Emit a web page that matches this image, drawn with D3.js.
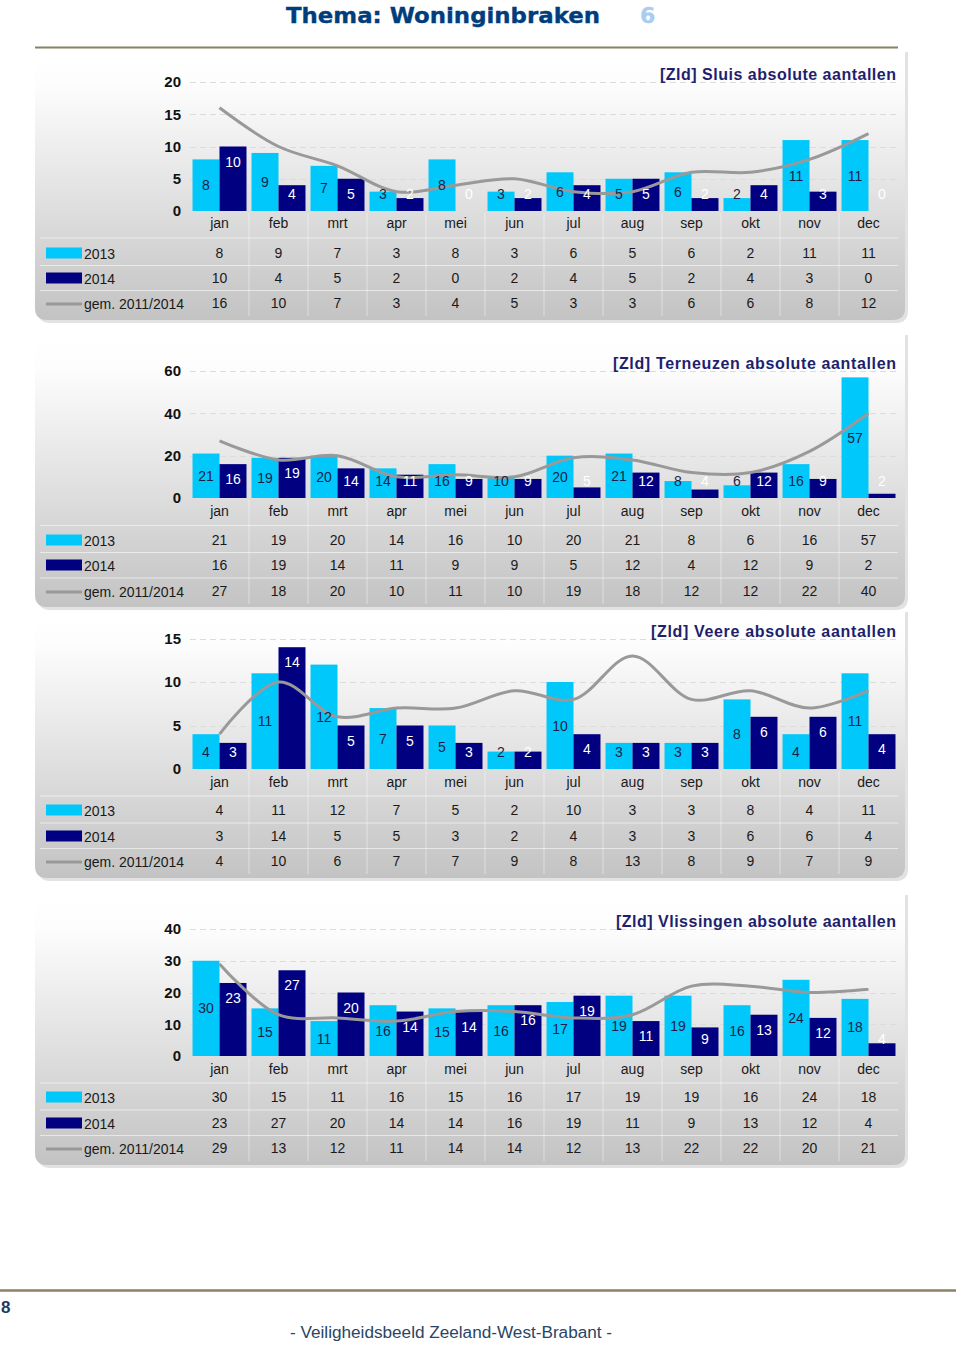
<!DOCTYPE html>
<html><head><meta charset="utf-8">
<script src="https://cdn.jsdelivr.net/npm/d3@7"></script>
<style>body{margin:0;background:#fff;}svg{display:block;font-family:"Liberation Sans",Arial,sans-serif;}</style>
</head><body>
<script>
// ---- data ----
const months = ["jan","feb","mrt","apr","mei","jun","jul","aug","sep","okt","nov","dec"];
const seriesNames = ["2013","2014","gem. 2011/2014"];

const sluis2013 = [8,9,7,3,8,3,6,5,6,2,11,11];
const sluis2014 = [10,4,5,2,0,2,4,5,2,4,3,0];
const sluisAvg  = [16,10,7,3,4,5,3,3,6,6,8,12];
const sluisTicks = [0,5,10,15,20];

const terneuzen2013 = [21,19,20,14,16,10,20,21,8,6,16,57];
const terneuzen2014 = [16,19,14,11,9,9,5,12,4,12,9,2];
const terneuzenAvg  = [27,18,20,10,11,10,19,18,12,12,22,40];
const terneuzenTicks = [0,20,40,60];

const veere2013 = [4,11,12,7,5,2,10,3,3,8,4,11];
const veere2014 = [3,14,5,5,3,2,4,3,3,6,6,4];
const veereAvg  = [4,10,6,7,7,9,8,13,8,9,7,9];
const veereTicks = [0,5,10,15];

const vlis2013 = [30,15,11,16,15,16,17,19,19,16,24,18];
const vlis2014 = [23,27,20,14,14,16,19,11,9,13,12,4];
const vlisAvg  = [29,13,12,11,14,14,12,13,22,22,20,21];
const vlisTicks = [0,10,20,30,40];

const titles = ["[Zld] Sluis absolute aantallen","[Zld] Terneuzen absolute aantallen","[Zld] Veere absolute aantallen","[Zld] Vlissingen absolute aantallen"];

// ---- layout (positions only) ----
const layouts = [
  {y0:211, yTop:82,  titleY:74,  catY:223, rows:[253,278,303], top:52,  bottom:320, titleW:236},
  {y0:498, yTop:371, titleY:363, catY:511, rows:[540,565,591], top:335, bottom:607, titleW:283},
  {y0:769, yTop:638.5,titleY:631,catY:782, rows:[810,836,861], top:612, bottom:878, titleW:245},
  {y0:1056,yTop:929, titleY:921, catY:1069,rows:[1097,1123,1148],top:895,bottom:1165, titleW:280}
];
const charts = [
  {a:sluis2013, b:sluis2014, avg:sluisAvg, ticks:sluisTicks},
  {a:terneuzen2013, b:terneuzen2014, avg:terneuzenAvg, ticks:terneuzenTicks},
  {a:veere2013, b:veere2014, avg:veereAvg, ticks:veereTicks},
  {a:vlis2013, b:vlis2014, avg:vlisAvg, ticks:vlisTicks}
];

const C_LIGHT="#00c8fa", C_DARK="#000080", C_LINE="#999999";
const W=960,H=1345;
const svg=d3.select("body").append("svg").attr("width",W).attr("height",H);
const defs=svg.append("defs");
const g=defs.append("linearGradient").attr("id","pg").attr("x1",0).attr("y1",0).attr("x2",0).attr("y2",1);
[[0,"#ffffff"],[0.12,"#fdfdfd"],[0.5,"#e4e4e4"],[0.75,"#d3d3d3"],[1,"#c3c3c3"]].forEach(s=>g.append("stop").attr("offset",s[0]).attr("stop-color",s[1]));

// header
svg.append("text").attr("x",286).attr("y",23).attr("font-family","DejaVu Sans").attr("font-weight","bold")
  .attr("font-size",22).attr("fill","#003d7c").attr("stroke","#003d7c").attr("stroke-width",0.35)
  .attr("textLength",314).attr("lengthAdjust","spacingAndGlyphs").text("Thema: Woninginbraken");
svg.append("text").attr("x",640).attr("y",23).attr("font-family","DejaVu Sans").attr("font-weight","bold")
  .attr("font-size",22).attr("fill","#a9cdf0").attr("stroke","#a9cdf0").attr("stroke-width",0.35).text("6");
svg.append("line").attr("x1",35).attr("x2",898).attr("y1",47.5).attr("y2",47.5).attr("stroke","#8a8262").attr("stroke-width",2);

// footer
svg.append("line").attr("x1",0).attr("x2",956).attr("y1",1290.5).attr("y2",1290.5).attr("stroke","#8a8262").attr("stroke-width",2.5);
svg.append("text").attr("x",1).attr("y",1313).attr("font-weight","bold").attr("font-size",17).attr("fill","#1f3a5c").text("8");
svg.append("text").attr("x",290).attr("y",1338).attr("font-size",16).attr("fill","#2a4565")
  .attr("textLength",322).attr("lengthAdjust","spacingAndGlyphs").text("- Veiligheidsbeeld Zeeland-West-Brabant -");

const x = d3.scaleBand().domain(months).range([190,898]).paddingInner(0).paddingOuter(0);
const x1 = d3.scaleBand().domain(["a","b"]).range([0,x.bandwidth()]).paddingInner(0).paddingOuter(0.093);

charts.forEach((c,i)=>{
  const L=layouts[i];
  const p=svg.append("g");
  const r=12, x0=35, xr=905;
  // shadow
  p.append("path").attr("d",`M${x0+3},${L.top} H${xr+3} V${L.bottom+3-r} Q${xr+3},${L.bottom+3} ${xr+3-r},${L.bottom+3} H${x0+3+r} Q${x0+3},${L.bottom+3} ${x0+3},${L.bottom+3-r} Z`).attr("fill","#e2e2e2");
  p.append("path").attr("d",`M${x0},${L.top} H${xr} V${L.bottom-r} Q${xr},${L.bottom} ${xr-r},${L.bottom} H${x0+r} Q${x0},${L.bottom} ${x0},${L.bottom-r} Z`).attr("fill","url(#pg)");

  const yMax=d3.max(c.ticks);
  const y=d3.scaleLinear().domain([0,yMax]).range([L.y0,L.yTop]);

  // grid
  p.selectAll(".grid").data(c.ticks.filter(t=>t>0)).join("line")
    .attr("x1",190).attr("x2",898).attr("y1",d=>Math.round(y(d))+0.5).attr("y2",d=>Math.round(y(d))+0.5)
    .attr("stroke","#dcdcdc").attr("stroke-dasharray","6,4").attr("stroke-width",1);

  // y axis labels
  const ya=d3.axisLeft(y).tickValues(c.ticks).tickSize(0).tickPadding(0);
  const yg=p.append("g").attr("transform","translate(181,0)").call(ya);
  yg.select(".domain").remove();
  yg.selectAll("text").attr("font-size",15).attr("font-weight","bold").attr("fill","#111").attr("font-family","Liberation Sans");

  // table separators
  const tableBottom=L.rows[2]+13;
  const sepY=[(L.catY+L.rows[0])/2,(L.rows[0]+L.rows[1])/2,(L.rows[1]+L.rows[2])/2];
  p.selectAll(".hs").data(sepY).join("line").attr("x1",40).attr("x2",898)
    .attr("y1",d=>d).attr("y2",d=>d).attr("stroke","#ffffff").attr("stroke-opacity",0.55);
  p.selectAll(".vs").data(months.slice(1)).join("line").attr("x1",d=>x(d)).attr("x2",d=>x(d))
    .attr("y1",L.y0+2).attr("y2",tableBottom).attr("stroke","#ffffff").attr("stroke-opacity",0.45);

  // bars
  const bars=[];
  months.forEach((m,k)=>{
    bars.push({m,key:"a",v:c.a[k]});
    bars.push({m,key:"b",v:c.b[k]});
  });
  p.selectAll(".bar").data(bars).join("rect")
    .attr("x",d=>x(d.m)+x1(d.key)).attr("width",x1.bandwidth())
    .attr("y",d=>y(d.v)).attr("height",d=>L.y0-y(d.v))
    .attr("fill",d=>d.key==="a"?C_LIGHT:C_DARK);

  // avg line
  const line=d3.line().x((d,k)=>x(months[k])+x.bandwidth()/2).y(d=>y(d)).curve(d3.curveCatmullRom.alpha(0.5));
  p.append("path").attr("d",line(c.avg)).attr("fill","none").attr("stroke",C_LINE).attr("stroke-width",3).attr("stroke-linejoin","round");

  // bar labels
  p.selectAll(".bl").data(bars).join("text")
    .attr("x",d=>x(d.m)+x1(d.key)+x1.bandwidth()/2)
    .attr("y",d=>{
      const top=y(d.v);
      const v = d.key==="a" ? (top+L.y0)/2 : top+15;
      return Math.min(v, L.y0-17);
    })
    .attr("text-anchor","middle").attr("dominant-baseline","central").attr("font-size",14)
    .attr("fill",d=>d.key==="a"?"#1a1f4a":"#ffffff").text(d=>d.v);

  // category labels
  p.selectAll(".cl").data(months).join("text").attr("x",d=>x(d)+x.bandwidth()/2).attr("y",L.catY)
    .attr("text-anchor","middle").attr("dominant-baseline","central").attr("font-size",14).attr("fill","#1a1a1a").text(d=>d);

  // table
  const rowsData=[c.a,c.b,c.avg];
  rowsData.forEach((arr,ri)=>{
    p.selectAll(".tv"+ri).data(arr).join("text").attr("x",(d,k)=>x(months[k])+x.bandwidth()/2).attr("y",L.rows[ri])
      .attr("text-anchor","middle").attr("dominant-baseline","central").attr("font-size",14).attr("fill","#1a1a1a").text(d=>d);
    if(ri<2){
      p.append("rect").attr("x",46).attr("y",L.rows[ri]-5.5).attr("width",36).attr("height",11).attr("fill",ri===0?C_LIGHT:C_DARK);
    } else {
      p.append("line").attr("x1",46).attr("x2",82).attr("y1",L.rows[ri]+1).attr("y2",L.rows[ri]+1).attr("stroke",C_LINE).attr("stroke-width",3);
    }
    p.append("text").attr("x",84).attr("y",L.rows[ri]+1).attr("dominant-baseline","central").attr("font-size",14).attr("fill","#1a1a1a").text(seriesNames[ri]);
  });

  // title
  p.append("text").attr("x",896).attr("y",L.titleY).attr("text-anchor","end").attr("dominant-baseline","central")
    .attr("font-size",16).attr("font-weight","bold").attr("fill","#1f1f6e")
    .attr("textLength",L.titleW).attr("lengthAdjust","spacing").text(titles[i]);
});
</script>
</body></html>
